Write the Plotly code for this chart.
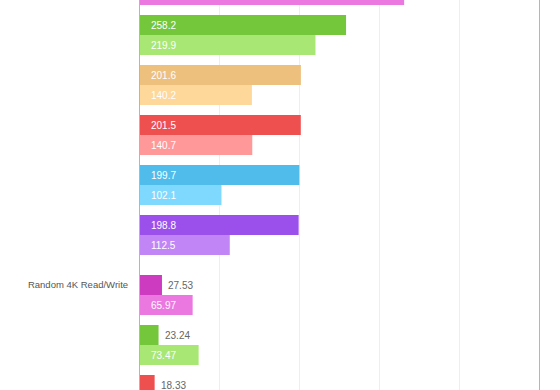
import plotly.graph_objects as go

# ---- data ----
categories = ["Sequential Read/Write", "Random 4K Read/Write"]

seq_devices = ["pink", "green", "orange", "red", "blue", "purple"]
seq_read = [None, 258.2, 201.6, 201.5, 199.7, 198.8]
seq_write = [331, 219.9, 140.2, 140.7, 102.1, 112.5]

rnd_devices = ["pink", "green", "red"]
rnd_read = [27.53, 23.24, 18.33]
rnd_write = [65.97, 73.47, None]

x_ticks = [0, 100, 200, 300, 400, 500]

# ---- styles ----
dark = {"pink": "#CD3CC0", "green": "#74C63A", "orange": "#EDC07E",
        "red": "#EE4F4F", "blue": "#4FBCEB", "purple": "#9B50EC"}
light = {"pink": "#EB78E0", "green": "#A8E774", "orange": "#FED79A",
         "red": "#FF9999", "blue": "#7FD9FE", "purple": "#C285F6"}

BAR = 20
PAIR = 2 * BAR + 10
CAT = 6 * PAIR + 10
Y_TOP, Y_BOT = 35, 425
INSIDE_MIN = 50
FONT = "Helvetica Neue, Helvetica, Arial, Liberation Sans, sans-serif"

groups = [(seq_devices, seq_read, seq_write), (rnd_devices, rnd_read, rnd_write)]

xs, ys, cols = [], [], []
annotations = []
for c, (devs, rd, wr) in enumerate(groups):
    for i, d in enumerate(devs):
        for k, (vals, pal) in enumerate(((rd, dark), (wr, light))):
            v = vals[i]
            y = c * CAT + i * PAIR + k * BAR + BAR / 2
            xs.append(v)
            ys.append(y)
            cols.append(pal[d])
            if v is None or not (Y_TOP <= y <= Y_BOT):
                continue
            if v >= INSIDE_MIN:
                annotations.append(dict(x=0, y=y, xref="x", yref="y", text=f"{v:g}",
                                        showarrow=False, xanchor="left", xshift=9,
                                        font=dict(color="white", size=10, family=FONT)))
            else:
                annotations.append(dict(x=v, y=y, xref="x", yref="y", text=f"{v:g}",
                                        showarrow=False, xanchor="left", xshift=4,
                                        font=dict(color="#666666", size=10, family=FONT)))

fig = go.Figure(go.Bar(x=xs, y=ys, orientation="h", width=BAR,
                       marker=dict(color=cols, line=dict(width=0)),
                       hoverinfo="skip"))

fig.update_layout(
    width=560, height=390,
    margin=dict(l=140, r=21, t=0, b=0),
    paper_bgcolor="white", plot_bgcolor="white",
    showlegend=False,
    annotations=annotations,
    font=dict(family=FONT),
    xaxis=dict(range=[0, 500], tickvals=x_ticks, showticklabels=False,
               showgrid=True, gridcolor="#EEEEEE", gridwidth=1,
               zeroline=False, showline=False),
    yaxis=dict(range=[Y_BOT, Y_TOP],
               tickvals=[c * CAT + BAR / 2 for c in range(len(categories))],
               ticktext=categories,
               tickfont=dict(size=9.5, color="#555555", family=FONT),
               ticklabelstandoff=9,
               showgrid=False, zeroline=False,
               showline=True, mirror=True, linecolor="#B5B5B5", linewidth=1),
)

fig.write_html("out.html", config={"displayModeBar": False},
               post_script="document.body.style.margin='0';document.body.style.overflow='hidden';")
